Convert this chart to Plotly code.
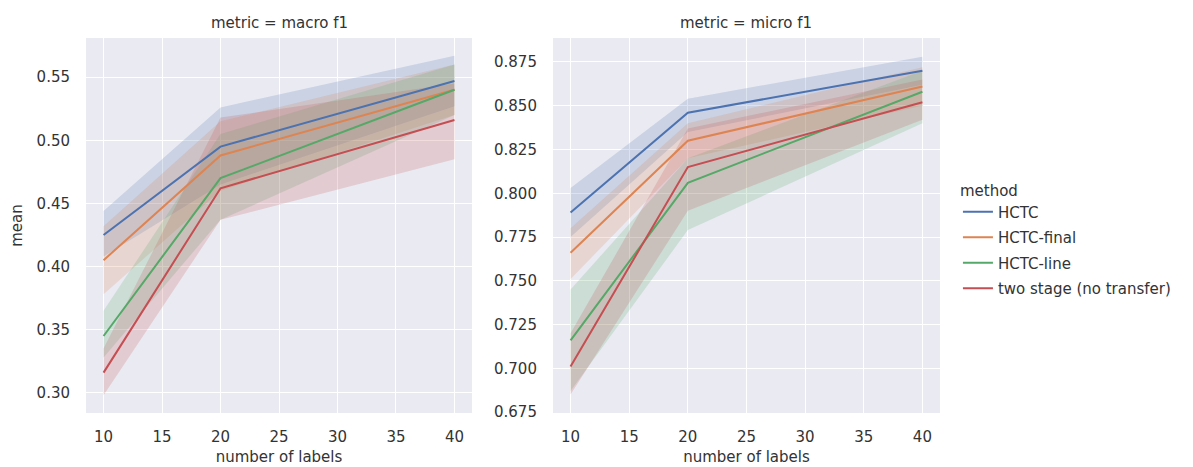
import plotly.graph_objects as go
from plotly.subplots import make_subplots

x_labels = [10, 20, 40]
methods = ["HCTC", "HCTC-final", "HCTC-line", "two stage (no transfer)"]
colors = ["#4C72B0", "#DD8452", "#55A868", "#C44E52"]
fills = ["rgba(76,114,176,0.2)", "rgba(221,132,82,0.2)", "rgba(85,168,104,0.2)", "rgba(196,78,82,0.2)"]

# macro f1
macro_mean = {
    "HCTC": [0.425, 0.495, 0.547],
    "HCTC-final": [0.405, 0.488, 0.540],
    "HCTC-line": [0.345, 0.470, 0.540],
    "two stage (no transfer)": [0.316, 0.462, 0.516],
}
macro_low = {
    "HCTC": [0.408, 0.465, 0.527],
    "HCTC-final": [0.378, 0.460, 0.520],
    "HCTC-line": [0.328, 0.437, 0.520],
    "two stage (no transfer)": [0.298, 0.437, 0.485],
}
macro_high = {
    "HCTC": [0.444, 0.526, 0.567],
    "HCTC-final": [0.432, 0.515, 0.560],
    "HCTC-line": [0.365, 0.505, 0.560],
    "two stage (no transfer)": [0.335, 0.518, 0.545],
}

# micro f1
micro_mean = {
    "HCTC": [0.789, 0.846, 0.870],
    "HCTC-final": [0.766, 0.830, 0.861],
    "HCTC-line": [0.716, 0.806, 0.858],
    "two stage (no transfer)": [0.701, 0.815, 0.852],
}
micro_low = {
    "HCTC": [0.775, 0.835, 0.862],
    "HCTC-final": [0.751, 0.820, 0.850],
    "HCTC-line": [0.687, 0.779, 0.840],
    "two stage (no transfer)": [0.685, 0.790, 0.842],
}
micro_high = {
    "HCTC": [0.803, 0.854, 0.878],
    "HCTC-final": [0.780, 0.840, 0.872],
    "HCTC-line": [0.745, 0.820, 0.870],
    "two stage (no transfer)": [0.720, 0.837, 0.865],
}

macro_ticks = [0.30, 0.35, 0.40, 0.45, 0.50, 0.55]
micro_ticks = [0.675, 0.700, 0.725, 0.750, 0.775, 0.800, 0.825, 0.850, 0.875]
x_ticks = [10, 15, 20, 25, 30, 35, 40]

TXT = "#333333"
FONT = "DejaVu Sans"

fig = make_subplots(rows=1, cols=2)

panels = [(1, macro_mean, macro_low, macro_high), (2, micro_mean, micro_low, micro_high)]
for col, mean, low, high in panels:
    for i, m in enumerate(methods):
        fig.add_trace(go.Scatter(x=x_labels, y=high[m], mode="lines", line=dict(width=0),
                                 legendgroup=m, showlegend=False, hoverinfo="skip"), row=1, col=col)
        fig.add_trace(go.Scatter(x=x_labels, y=low[m], mode="lines", line=dict(width=0),
                                 fill="tonexty", fillcolor=fills[i], legendgroup=m,
                                 showlegend=False, hoverinfo="skip"), row=1, col=col)
    for i, m in enumerate(methods):
        fig.add_trace(go.Scatter(x=x_labels, y=mean[m], mode="lines", name=m, legendgroup=m,
                                 line=dict(color=colors[i], width=2),
                                 showlegend=(col == 1)), row=1, col=col)

axis_common = dict(showgrid=True, gridcolor="white", gridwidth=1.3, zeroline=False,
                   showline=False, ticks="", automargin=False,
                   tickfont=dict(size=15, color=TXT, family=FONT))

fig.update_xaxes(**axis_common, range=[8.5, 41.5], tickvals=x_ticks,
                 ticklabelstandoff=13,
                 title=dict(text="number of labels", font=dict(size=15, color=TXT, family=FONT), standoff=6))
fig.update_xaxes(domain=[0.0, 0.452], row=1, col=1)
fig.update_xaxes(domain=[0.5468, 1.0], row=1, col=2)

fig.update_yaxes(**axis_common, domain=[0.0, 1.0], ticklabelstandoff=15)
fig.update_yaxes(range=[0.284, 0.581], tickvals=macro_ticks, tickformat=".2f",
                 title=dict(text="mean", font=dict(size=15, color=TXT, family=FONT), standoff=10),
                 row=1, col=1)
fig.update_yaxes(range=[0.6745, 0.8887], tickvals=micro_ticks, tickformat=".3f", row=1, col=2)

fig.add_annotation(text="metric = macro f1", x=0.226, y=1.04, xref="paper", yref="paper",
                   xanchor="center", yanchor="middle",
                   showarrow=False, font=dict(size=15, color=TXT, family=FONT))
fig.add_annotation(text="metric = micro f1", x=0.7728, y=1.04, xref="paper", yref="paper",
                   xanchor="center", yanchor="middle",
                   showarrow=False, font=dict(size=15, color=TXT, family=FONT))

fig.update_layout(
    width=1185, height=459,
    margin=dict(l=78, r=253, t=30, b=54, autoexpand=False),
    paper_bgcolor="white", plot_bgcolor="#EAEAF2",
    font=dict(family=FONT, size=15, color=TXT),
    legend=dict(title=dict(text="method", font=dict(size=15, color=TXT)),
                x=1.021, y=0.632, xanchor="left", yanchor="top",
                bgcolor="rgba(0,0,0,0)", font=dict(size=15, color=TXT),
                traceorder="grouped", tracegroupgap=3, itemwidth=30),
    showlegend=True,
)

fig.write_html("out.html")
